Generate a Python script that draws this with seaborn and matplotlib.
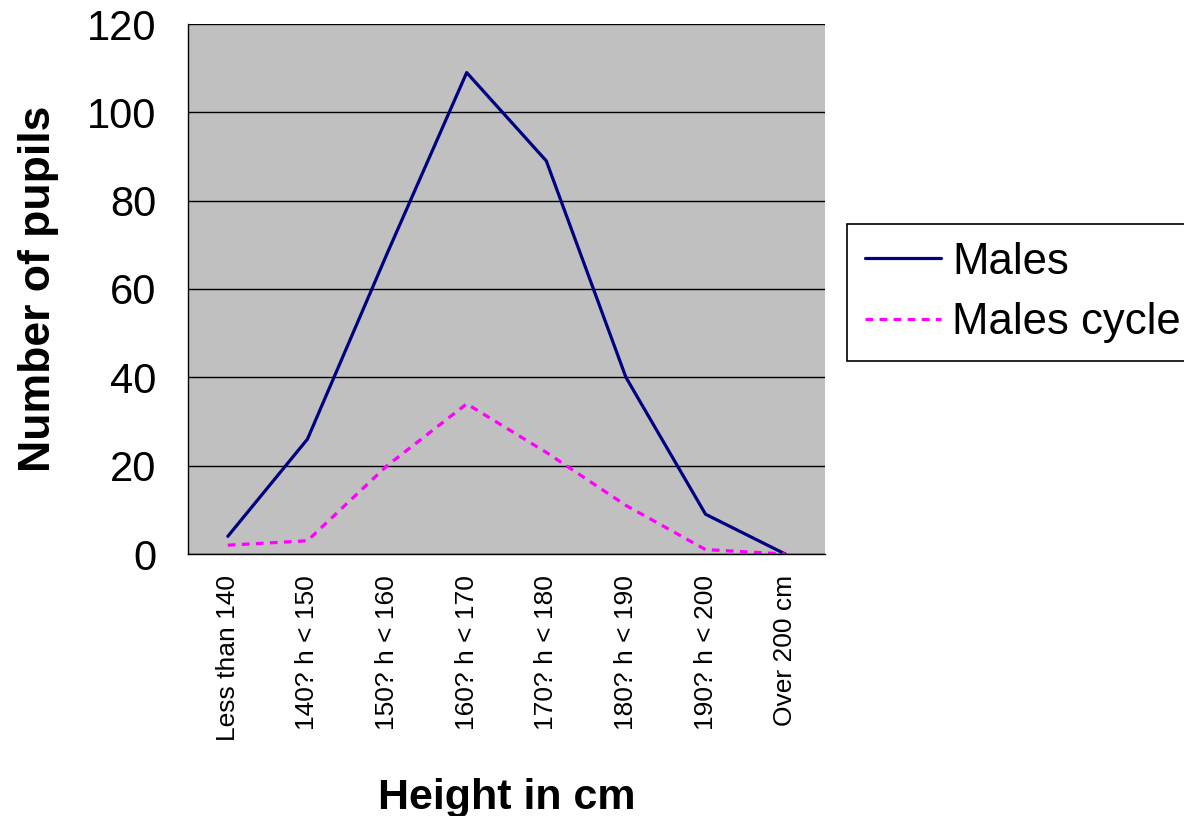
import numpy as np
import pandas as pd
import seaborn as sns
import matplotlib.pyplot as plt

# data
categories = ["Less than 140", "140? h < 150", "150? h < 160", "160? h < 170",
              "170? h < 180", "180? h < 190", "190? h < 200", "Over 200 cm"]
males = [4, 26, 68, 109, 89, 40, 9, 0]
males_cycle = [2, 3, 20, 34, 23, 11, 1, 0]
series_names = ["Males", "Males cycle"]

df = pd.DataFrame({
    "category": categories * 2,
    "count": males + males_cycle,
    "series": [series_names[0]] * len(categories) + [series_names[1]] * len(categories),
})

sns.set_style("white")
plt.rcParams["font.family"] = ["Liberation Sans", "DejaVu Sans"]
plt.rcParams["text.color"] = "black"
plt.rcParams["xtick.color"] = "black"
plt.rcParams["ytick.color"] = "black"
plt.rcParams["axes.labelcolor"] = "black"

fig = plt.figure(figsize=(11.84, 8.16), dpi=100)
ax = fig.add_axes([188 / 1184, 1 - 554 / 816, 637 / 1184, 530 / 816])
ax.set_facecolor("#C0C0C0")

sns.lineplot(data=df, x="category", y="count", hue="series", style="series",
             palette={"Males": "#000080", "Males cycle": "#FF00FF"},
             dashes={"Males": "", "Males cycle": (2.4, 2.0)},
             linewidth=2.3, sort=False, ax=ax)

ax.set_xlim(-0.5, len(categories) - 0.5)
ax.set_ylim(0, 120)
ax.set_yticks(np.arange(0, 121, 20))
ax.yaxis.grid(True, color="black", linewidth=1)
ax.set_axisbelow(True)

# tick marks at category boundaries, labels at centres
ax.set_xticks(np.arange(-0.5, len(categories), 1))
ax.set_xticklabels([])
ax.set_xticks(np.arange(len(categories)), minor=True)
ax.set_xticklabels(categories, minor=True, rotation=90, fontsize=19)
ax.tick_params(axis="x", which="minor", length=0, pad=15)
ax.tick_params(axis="x", which="major", length=10, width=1, color="black", direction="out")
ax.tick_params(axis="y", length=12, width=1, color="black", direction="out",
               labelsize=30, pad=11)

for side in ["top", "right"]:
    ax.spines[side].set_visible(False)
for side in ["left", "bottom"]:
    ax.spines[side].set_color("black")
    ax.spines[side].set_linewidth(1)

ax.set_xlabel("Height in cm", fontsize=31, fontweight="bold", labelpad=27)
ax.set_ylabel("Number of pupils", fontsize=32, fontweight="bold", labelpad=20)

handles, labels = ax.get_legend_handles_labels()
leg = fig.legend(handles, labels, loc="upper left",
                 bbox_to_anchor=(847 / 1184, 1 - 224 / 816),
                 fontsize=31.5, frameon=True, fancybox=False, edgecolor="black",
                 framealpha=1, handlelength=1.75, handletextpad=0.25,
                 borderpad=0.4, labelspacing=0.45, borderaxespad=0)
leg.get_frame().set_linewidth(1.2)
ax.get_legend().remove()

fig.savefig("out.png", dpi=100)
